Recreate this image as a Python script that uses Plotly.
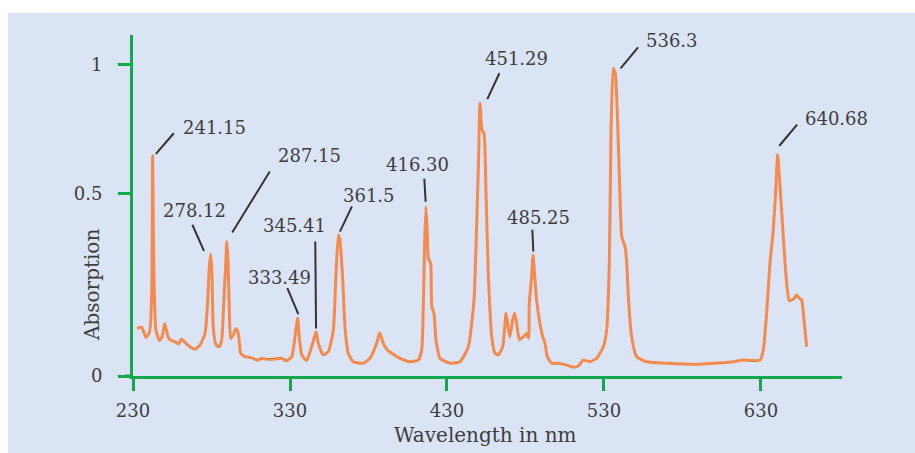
import plotly.graph_objects as go

# ---- data ----
wavelength = [232.7, 235.5, 238.3, 240.4, 241.3, 242.1, 242.5, 243.4, 244.6, 246.8,
              248.5, 250.2, 251.5, 253.1, 256.8, 258.9, 261.0, 263.1, 266.3, 269.5,
              272.7, 275.9, 277.6, 278.6, 279.5, 280.3, 281.1, 282.9, 285.0, 286.5,
              287.5, 288.4, 289.0, 289.7, 290.5, 291.3, 292.2, 293.9, 295.6, 297.1,
              298.6, 301.3, 305.6, 308.8, 312.0, 315.2, 319.4, 324.7, 327.9, 331.1,
              333.2, 334.9, 335.9, 337.5, 340.6, 343.8, 346.6, 348.0, 351.2, 354.4,
              357.6, 359.3, 360.8, 361.8, 363.6, 365.0, 367.1, 370.3, 376.7, 381.0,
              385.2, 387.1, 389.1, 391.6, 394.8, 400.1, 406.4, 411.7, 413.9, 414.9,
              415.8, 416.6, 417.5, 418.1, 419.6, 420.3, 421.7, 423.0, 425.5, 431.9,
              438.3, 443.6, 447.2, 448.8, 450.1, 451.0, 452.3, 453.6, 454.8, 456.3,
              458.5, 460.6, 462.7, 465.5, 467.6, 468.9, 470.1, 471.8, 473.1, 474.4,
              476.1, 478.6, 480.8, 482.0, 482.4, 483.9, 484.8, 485.9, 487.1, 489.2,
              491.0, 492.4, 493.9, 496.7, 500.9, 506.2, 510.4, 513.6, 516.8, 521.1,
              525.4, 529.6, 531.7, 533.4, 534.5, 535.9, 537.2, 538.5, 540.2, 541.3,
              543.4, 544.5, 545.5, 547.6, 550.8, 557.2, 569.9, 591.1, 612.4, 617.7,
              629.4, 631.5, 633.6, 635.7, 637.8, 639.4, 640.6, 641.7, 643.8, 646.0,
              648.0, 650.6, 652.7, 654.4, 655.9, 657.4, 659.1]
absorption = [0.153, 0.157, 0.124, 0.139, 0.180, 0.331, 0.707, 0.299, 0.148, 0.114,
              0.126, 0.169, 0.142, 0.118, 0.110, 0.103, 0.119, 0.108, 0.094, 0.086,
              0.100, 0.137, 0.244, 0.351, 0.392, 0.331, 0.159, 0.100, 0.094, 0.116,
              0.202, 0.298, 0.351, 0.432, 0.373, 0.223, 0.121, 0.132, 0.153, 0.137,
              0.073, 0.062, 0.059, 0.051, 0.056, 0.054, 0.054, 0.057, 0.049, 0.062,
              0.126, 0.186, 0.126, 0.068, 0.049, 0.094, 0.142, 0.105, 0.068, 0.078,
              0.148, 0.330, 0.453, 0.437, 0.309, 0.159, 0.073, 0.046, 0.041, 0.057,
              0.105, 0.139, 0.110, 0.086, 0.073, 0.057, 0.046, 0.051, 0.084, 0.223,
              0.437, 0.544, 0.459, 0.378, 0.362, 0.223, 0.202, 0.116, 0.057, 0.041,
              0.046, 0.094, 0.244, 0.469, 0.695, 0.877, 0.791, 0.780, 0.598, 0.330,
              0.126, 0.073, 0.068, 0.094, 0.202, 0.159, 0.126, 0.180, 0.202, 0.169,
              0.116, 0.126, 0.137, 0.121, 0.234, 0.319, 0.389, 0.319, 0.244, 0.169,
              0.126, 0.105, 0.062, 0.041, 0.041, 0.035, 0.028, 0.032, 0.051, 0.046,
              0.057, 0.094, 0.148, 0.362, 0.791, 0.989, 0.973, 0.845, 0.577, 0.448,
              0.416, 0.362, 0.255, 0.126, 0.062, 0.046, 0.041, 0.038, 0.046, 0.051,
              0.051, 0.084, 0.202, 0.362, 0.469, 0.598, 0.711, 0.641, 0.480, 0.319,
              0.242, 0.247, 0.260, 0.250, 0.244, 0.180, 0.094]

x_tick_vals = [230, 330, 430, 530, 630]
x_tick_text = ["230", "330", "430", "530", "630"]
y_tick_vals = [0, 0.585, 1]
y_tick_text = ["0", "0.5", "1"]

# peak labels: text, text position, leader line (tail -> head)
label_text = ["241.15", "278.12", "287.15", "333.49", "345.41", "361.5",
              "416.30", "451.29", "485.25", "536.3", "640.68"]
label_x = [281.6, 269.3, 342.7, 323.3, 333.0, 380.2, 411.5, 474.4, 488.4, 573.3, 677.8]
label_y = [0.799, 0.532, 0.709, 0.317, 0.483, 0.579, 0.681, 1.020, 0.510, 1.077, 0.827]
tail_x = [256.8, 267.4, 317.7, 327.9, 346.1, 369.9, 415.5, 463.8, 484.3, 552.5, 653.8]
tail_y = [0.785, 0.491, 0.662, 0.287, 0.437, 0.550, 0.639, 0.978, 0.475, 1.061, 0.813]
head_x = [244.6, 275.2, 293.2, 335.3, 346.6, 361.8, 416.4, 455.7, 485.0, 540.6, 641.7]
head_y = [0.714, 0.402, 0.461, 0.199, 0.153, 0.464, 0.560, 0.890, 0.400, 0.989, 0.740]

GREEN = "#12a84e"
ORANGE = "#f68a4d"
TEXT = "#3d3d3d"
PANEL = "#dbe4f4"
FONT = "DejaVu Serif"

fig = go.Figure()
fig.add_trace(go.Scatter(
    x=wavelength, y=absorption, mode="lines",
    line=dict(color=ORANGE, width=3, shape="spline", smoothing=0.5),
    hoverinfo="skip", showlegend=False,
))

annotations = []
for i in range(len(label_text)):
    annotations.append(dict(
        x=head_x[i], y=head_y[i], ax=tail_x[i], ay=tail_y[i],
        xref="x", yref="y", axref="x", ayref="y",
        text="", showarrow=True, arrowhead=0, arrowwidth=2, arrowcolor="#333333",
    ))
    annotations.append(dict(
        x=label_x[i], y=label_y[i], xref="x", yref="y",
        text=label_text[i], showarrow=False,
        xanchor="center", yanchor="middle",
        font=dict(family=FONT, size=18, color=TEXT),
    ))

annotations.append(dict(
    x=-0.0578, y=0.267, xref="paper", yref="paper", text="Absorption",
    textangle=-90, showarrow=False, xanchor="center", yanchor="middle",
    font=dict(family=FONT, size=20, color=TEXT),
))
annotations.append(dict(
    x=0.497, y=-0.172, xref="paper", yref="paper", text="Wavelength in nm",
    showarrow=False, xanchor="center", yanchor="middle",
    font=dict(family=FONT, size=20, color=TEXT),
))

fig.update_layout(
    width=915, height=453,
    margin=dict(l=133, r=73, t=35, b=77),
    paper_bgcolor="white",
    plot_bgcolor=PANEL,
    showlegend=False,
    annotations=annotations,
    shapes=[dict(type="rect", xref="paper", yref="paper",
                 x0=-0.1763, x1=1.11, y0=-0.3, y1=1.0645,
                 fillcolor=PANEL, line=dict(width=0), layer="below")],
    font=dict(family=FONT, size=18, color=TEXT),
)
fig.update_xaxes(
    range=[230, 681.6], showgrid=False, zeroline=False,
    showline=True, linecolor=GREEN, linewidth=3,
    ticks="outside", ticklen=12, tickwidth=3, tickcolor=GREEN,
    tickvals=x_tick_vals, ticktext=x_tick_text,
    tickfont=dict(family=FONT, size=18, color=TEXT),
    ticklabelstandoff=4,
)
fig.update_yaxes(
    range=[0, 1.096], showgrid=False, zeroline=False,
    showline=True, linecolor=GREEN, linewidth=3,
    ticks="outside", ticklen=12, tickwidth=3, tickcolor=GREEN,
    tickvals=y_tick_vals, ticktext=y_tick_text,
    tickfont=dict(family=FONT, size=18, color=TEXT),
    ticklabelstandoff=12,
)
# extend x axis line slightly left of the y axis, as in the reference
fig.add_shape(type="line", xref="paper", yref="paper", x0=-0.0113, x1=0, y0=0, y1=0,
              line=dict(color=GREEN, width=3))

fig.write_html(
    "out.html",
    config={"displayModeBar": False},
    post_script="document.body.style.margin='0';document.body.style.overflow='hidden';",
)
